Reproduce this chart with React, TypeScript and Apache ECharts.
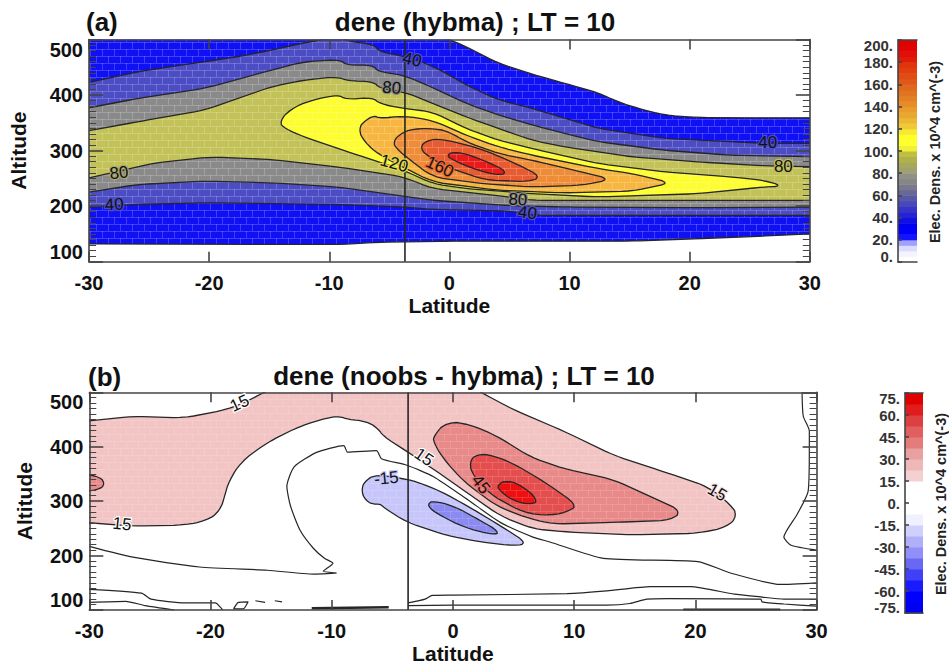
import React, { useEffect, useRef } from "react";
import * as echarts from "echarts";

type Pt = number[];
const FONT = "'Liberation Sans', Arial, sans-serif";

// Panel (a): filled contour outlines, [latitude, altitude]
const A_20: Pt[] = [[-31,506],[-1,506],[0,500],[1.4,487],[4.1,457],[6.9,437.5],[9.6,421],[12.4,404],[14,388],[15.7,376],[17.9,364],[20.7,359.5],[26,359],[31,359],[31,151],[26,146],[20.7,141.5],[15,137],[0,137],[-6,135],[-9,131],[-31,132]];
const A_40: Pt[] = [[-31,418],[-25.9,442],[-20.4,460],[-17.6,469],[-14.8,481],[-12.1,494],[-10.4,500],[-10,505],[-9,505],[-8.5,497],[-6.2,491],[-5.9,478],[-3.7,470],[-1.4,452],[0,436],[1.4,418],[4.1,391],[6.9,376],[12.4,340],[17.9,322],[26.2,313],[31,313],[31,183.5],[20.7,183.5],[7.2,183.5],[5.2,191],[-1.4,194],[-3.8,198.5],[-9.3,203],[-20.4,206],[-26.4,203],[-31,197]];
const A_60: Pt[] = [[-31,373],[-25.9,394],[-20.4,412],[-14.8,445],[-12.1,460],[-9,464],[-8.7,454],[-6.3,454],[-6,442],[-3.8,436],[-1.4,413.5],[1.4,385],[4.1,364],[6.9,346],[9.6,331],[12.4,316],[17.9,300.6],[23.4,291.6],[31,288.6],[31,198.5],[20.7,197.3],[9.6,198.5],[5,201],[-1.4,210.5],[-9.3,234.5],[-14.8,242],[-20.4,245],[-25.9,239],[-31,222]];
const A_80: Pt[] = [[-31,332],[-25.9,352],[-20.4,373],[-14.8,415],[-12.1,427],[-9.3,433],[-8.5,425.5],[-6.2,424],[-5.9,412],[-3.8,406],[-1.4,385],[1.4,360.6],[4.1,339.6],[6.9,318.6],[9.6,306.6],[15.2,288.6],[20.7,279.6],[26.4,272.4],[31,270.6],[31,210.5],[20.7,210.5],[6.9,210.5],[5,216.5],[-1.4,231.5],[-3.8,252.5],[-9.3,270.6],[-14.8,284],[-19.8,288.6],[-24.5,278],[-31,246]];
const A_100: Pt[] = [[-14.2,351.6],[-13.2,375.7],[-11.5,390.7],[-9.2,401],[-8.7,392],[-6.3,395.5],[-5.9,384.7],[-3.8,375.7],[-1.4,369.7],[1.4,339.6],[4.1,318.6],[6.9,303.6],[12.4,276.6],[17.9,261.6],[23.4,252.6],[26.2,246.5],[27.8,236],[26.2,234.5],[20.7,222.5],[12.4,216.5],[6.9,222.5],[1.4,231.5],[-1.4,240.5],[-3.8,264.6],[-8,294.6],[-12.1,324.6],[-13.7,339.6]];
const A_120: Pt[] = [[-7.6,339.6],[-7,354.6],[-6.2,363.7],[-5.9,357.7],[-3.8,362.5],[-1.4,354.6],[1.4,327.6],[4.1,306.6],[6.9,291.6],[12.4,267.6],[15.2,258.6],[18.5,241.7],[15.2,227],[9.6,223.7],[4.1,228.5],[-1.4,243.5],[-3.6,267.6],[-5.8,291.6],[-7.1,315.6]];
const A_140: Pt[] = [[-4.7,315.6],[-4.1,330.6],[-3,339.6],[-1.1,339.6],[0,333.6],[1.4,315.6],[4.1,294.6],[6.9,282.6],[11,261.6],[13.5,248.3],[11,237.5],[6.9,234.5],[2.8,240.5],[-1.4,252.5],[-3.6,288.6],[-4.4,303.6]];
const A_160: Pt[] = [[-2.5,304],[-1.9,319],[-0.6,321],[2.5,304],[5.2,280],[7.7,253],[6.6,244],[3,247],[-0.3,271],[-1.7,289]];
const A_180: Pt[] = [[-0.3,292],[0.55,299],[2.5,286],[4.9,262],[4.1,254.6],[1.9,268],[0.3,283]];
const A_FILLS = ["#1010f4", "#4c4cc4", "#8a8a8a", "#c2c258", "#fdfd30", "#f6b640", "#ee8c38", "#e85a30", "#e81a1a"];

// Panel (b)
const B_P15: Pt[] = [[-31,445],[-26.4,456],[-22.2,453],[-18.7,468],[-17,483],[-15.6,500],[-15,505],[2,505],[2.3,500],[5,468],[9.1,429],[13.3,384],[17.4,354],[21,327],[22.9,294],[23.5,273],[22.6,252],[20.2,241],[14.7,238],[9.7,243],[6.6,249],[3.9,273],[1.2,315],[-1.3,354],[-3.5,387],[-5.8,420],[-6.1,432],[-7.1,447],[-8.7,450],[-9.3,456],[-10.4,453],[-12.6,438],[-15.3,408],[-17.5,372],[-18.5,336],[-18.8,312],[-19.2,282],[-20.3,264],[-22.2,256],[-26.4,254],[-31,262]];
const B_P30_L: Pt[] = [[-31,348],[-29.4,348],[-28.6,333],[-29.3,319],[-31,319]];
const B_P30: Pt[] = [[-1.6,420],[-0.5,447],[1.4,441],[3.6,420],[6.4,381],[9.1,360],[13.3,339],[18.9,282],[18,265],[13.3,261],[8.3,258],[6.4,267],[3.6,291],[0.9,336],[-0.8,378],[-1.6,408]];
const B_P45: Pt[] = [[1.3,372],[2,387],[3.3,384],[5,369],[7.5,336],[10.2,294],[9.7,282],[8,273],[5.8,279],[3.1,312],[1.7,345]];
const B_P60: Pt[] = [[3.6,330],[4.5,339],[5.8,327],[7,303],[6.6,293],[5,300],[3.9,318]];
const B_N15: Pt[] = [[-7.6,321],[-7.2,339],[-6.3,349],[-4.3,342],[-3,336],[-1,318],[1.2,291],[3.9,255],[6.2,222],[5,218],[2.3,225],[-0.5,237],[-3.8,261],[-5.7,288],[-6,295],[-6.5,294],[-7.2,300]];
const B_N30: Pt[] = [[-2,297],[-1.6,300],[0,292],[2.3,264],[3.9,243],[3.3,238],[0.9,252],[-1,273],[-2,288]];
const B_FILLS = ["#f2c4c4", "#e88a8a", "#e88a8a", "#e44e4e", "#ee1010", "#c6c6fb", "#8a8af0"];

// Panel (b): open contour lines
const B_LOOP: Pt[] = [[-30,217],[-26.4,197],[-20.9,179],[-15.3,173],[-11.5,166],[-9.6,168],[-10.7,171],[-9.9,186],[-10.6,195],[-11.5,213],[-12.6,246],[-13.4,291],[-13.7,327],[-13.1,363],[-11.2,390],[-9,402],[-8.7,390],[-6.3,393],[-5.9,378],[-3.8,366],[-1.6,345],[1.2,303],[3.9,261],[6.6,234],[8,225],[12.4,195],[20.2,189],[22.9,168],[27,147],[30,150]];
const B_RIGHT: Pt[] = [[28.8,500],[28.9,456],[29.4,429],[29.4,396],[29.3,318],[28.4,276],[27.3,234],[27.9,219],[30,210]];
const B_LOW1: Pt[] = [[-30,138],[-25.7,131],[-24.9,120],[-22.1,113],[-19.6,113],[-19.1,103],[-19,100]];
const B_LOW2: Pt[] = [[-30,114],[-27,116],[-25.4,108],[-23,100]];
const B_LOW3: Pt[] = [[-3.7,113],[-2.3,120],[-1.7,127],[0,127.5],[9.4,130],[12.7,135],[16.3,143],[19.6,143],[23.2,129],[25.4,124],[27.3,120],[30,120]];
const B_LOW4: Pt[] = [[-3.7,108],[0,109],[12.7,109],[14.6,112],[16,120],[17.7,121],[25.4,120],[25.5,115],[27.3,111],[30,107]];
const B_FRAG1: Pt[] = [[-18.1,102],[-17.7,114],[-16.9,115],[-17.3,102],[-18.1,102]];
const B_FRAG2: Pt[] = [[-16.3,117],[-15.5,114]];
const B_FRAG3: Pt[] = [[-14.7,117],[-14.1,115]];
const B_FRAG4: Pt[] = [[-11.65,103],[-5.3,105]];
const B_FRAG5: Pt[] = [[19,101],[27,101]];

const CUT_LAT = -3.7;

// Contour labels: text, latitude, altitude, tilt in degrees
const A_LABELS: [string, number, number, number][] = [["40",-3.1,464,-12],["80",-4.8,413,-5],["80",-27.5,260,6],["40",-27.9,203,3],["120",-4.6,277,-15],["160",-0.8,271,-25],["40",26.5,314,0],["80",27.8,271,0],["80",5.7,212,-3],["40",6.5,188,-8]];
const A_LABEL_HALOS = ["#4c4cc4","#8a8a8a","#a8a870","#4c4cc4","#e0d850","#e86a34","#4c4cc4","#c0c056","#8a8a8a","#4c4cc4"];
const B_LABELS: [string, number, number, number][] = [["15",-17.6,480,25],["15",-27.3,258,-6],["15",-2.4,381,-35],["-15",-5.5,342,6],["45",2.3,331,-52],["15",21.8,316,-30]];
const B_LABEL_HALOS = ["#ffffff","#ffffff","#ffffff","#c6c6fb","#e86c6c","#f8e0e0"];

// Colour bars, bottom cell first
const BAR_A = ["#ffffff","#f4f4ff","#dcdcff","#a0a0ff","#1414ff","#0000ff","#0000f0","#1010e4","#2424d4","#3434c8","#4848bc","#5858a8","#686898","#78788e","#868686","#90908a","#a0a070","#a8a85c","#b0b04c","#c0c040","#f0f038","#ffff30","#ffff28","#f8e830","#f0c838","#ecb834","#e8a830","#e89c2c","#e88c28","#e48024","#e07420","#e0681c","#e05818","#e04c14","#e04010","#e0340c","#e01c08","#e01008","#e00404","#e00000"];
const BAR_B = ["#0000f0","#0000ff","#1a1aff","#4040f8","#6868f4","#9090f8","#b0b0fa","#d0d0fc","#f0f0ff","#ffffff","#ffffff","#ffffff","#f4d0d0","#eeb8b8","#e8a0a0","#e47c7c","#e06060","#dc4040","#e01c1c","#e00000"];
const Y_RANGE = [100, 500];
const BAR_RANGE_A = [0, 200];
const BAR_RANGE_B = [-75, 75];

const patternCache: Record<string, any> = {};
const brick = (color: string, alpha: number) => {
  const key = color + alpha;
  if (patternCache[key]) return patternCache[key];
  const c = document.createElement("canvas");
  c.width = 12;
  c.height = 14;
  const g = c.getContext("2d")!;
  g.fillStyle = color;
  g.fillRect(0, 0, 12, 14);
  g.fillStyle = `rgba(255,255,255,${alpha})`;
  g.fillRect(0, 0, 12, 1);
  g.fillRect(0, 7, 12, 1);
  g.fillRect(0, 0, 1, 7);
  g.fillRect(6, 7, 1, 7);
  const p = { image: c, repeat: "repeat", imageWidth: 12, imageHeight: 14 };
  patternCache[key] = p;
  return p;
};

// corner-cutting of the closed outline on screen coordinates, with a capped cut
const soften = (src: number[][]) => {
  let pts = src;
  [7, 3].forEach((cap) => {
    const out: number[][] = [];
    const n = pts.length;
    pts.forEach((b, i) => {
      const a = pts[(i + n - 1) % n];
      const c = pts[(i + 1) % n];
      const toward = (q: number[]) => {
        const len = Math.hypot(q[0] - b[0], q[1] - b[1]) || 1;
        const t = Math.min(0.3, cap / len);
        return [b[0] + (q[0] - b[0]) * t, b[1] + (q[1] - b[1]) * t];
      };
      out.push(toward(a), toward(c));
    });
    pts = out;
  });
  return pts;
};

const polygonSeries = (pts: Pt[], fill: any, axis: number) => ({
  type: "custom", xAxisIndex: axis, yAxisIndex: axis, clip: true, silent: true,
  data: pts,
  renderItem: (p: any, api: any) =>
    p.dataIndex !== 0 ? null : {
      type: "polygon",
      shape: { points: soften(pts.map((q) => api.coord(q))) },
      style: { fill, stroke: "#262626", lineWidth: 1.3 },
    },
});
const lineSeries = (pts: Pt[], axis: number, width = 1.2, smooth: number | boolean = 0.2) => ({
  type: "line", xAxisIndex: axis, yAxisIndex: axis, data: pts, showSymbol: false, smooth, silent: true,
  lineStyle: { color: "#262626", width }, z: 3,
});
const labelSeries = (rows: [string, number, number, number][], halos: string[], axis: number) => ({
  type: "custom", xAxisIndex: axis, yAxisIndex: axis, silent: true, z: 6,
  data: rows.map((r) => [r[1], r[2]]),
  renderItem: (p: any, api: any) => {
    const c = api.coord([api.value(0), api.value(1)]);
    const r = rows[p.dataIndex];
    return {
      type: "text", x: c[0], y: c[1], rotation: (r[3] * Math.PI) / 180,
      style: { text: r[0], fill: "#111", stroke: halos[p.dataIndex], lineWidth: 2.5, font: `17px ${FONT}`, align: "center", verticalAlign: "middle" },
    };
  },
});
const barSeries = (colors: string[], range: number[], axis: number) => {
  const step = (range[1] - range[0]) / colors.length;
  return {
    type: "custom", xAxisIndex: axis, yAxisIndex: axis, silent: true,
    encode: { x: 0, y: 1 },
    data: colors.map((_, i) => [0, range[0] + i * step, range[0] + (i + 1) * step]),
    renderItem: (p: any, api: any) => {
      const a = api.coord([0, api.value(2)]);
      const b = api.coord([1, api.value(1)]);
      return { type: "rect", shape: { x: a[0], y: a[1], width: b[0] - a[0], height: b[1] - a[1] + 0.5 }, style: { fill: colors[p.dataIndex] } };
    },
  };
};

const AX = { color: "#444", width: 1.6 };
const label = { fontFamily: FONT, fontWeight: "bold", fontSize: 20, color: "#111" };
const nameStyle = { fontFamily: FONT, fontWeight: "bold", fontSize: 21, color: "#111" };

const latAxes = (grid: number, name: string) => [
  { type: "value", gridIndex: grid, min: -30, max: 30, interval: 10, position: "bottom", z: 5,
    axisLine: { onZero: false, lineStyle: AX }, axisTick: { inside: true, length: 10, lineStyle: AX },
    splitLine: { show: false }, axisLabel: { ...label, margin: 11, showMinLabel: true, showMaxLabel: true },
    name, nameLocation: "middle", nameGap: 33, nameTextStyle: nameStyle },
  { type: "value", gridIndex: grid, min: -30, max: 30, interval: 10, position: "top", z: 5,
    axisLine: { onZero: false, lineStyle: AX }, axisTick: { inside: true, length: 10, lineStyle: AX },
    splitLine: { show: false }, axisLabel: { show: false } },
];
const altAxes = (grid: number, nameGap: number) => [
  { type: "value", gridIndex: grid, min: Y_RANGE[0], max: Y_RANGE[1], interval: 100, position: "left", z: 5,
    axisLine: { onZero: false, lineStyle: AX }, axisTick: { inside: true, length: 14, lineStyle: AX },
    minorTick: { show: true, splitNumber: 10, length: 7, lineStyle: { color: "#444", width: 1 } },
    splitLine: { show: false }, minorSplitLine: { show: false },
    axisLabel: { ...label, margin: 6, showMinLabel: true, showMaxLabel: true, verticalAlignMaxLabel: "top", verticalAlignMinLabel: "bottom" },
    name: "Altitude", nameLocation: "middle", nameGap, nameRotate: 90, nameTextStyle: nameStyle },
  { type: "value", gridIndex: grid, min: Y_RANGE[0], max: Y_RANGE[1], interval: 100, position: "right", z: 5,
    axisLine: { onZero: false, lineStyle: AX }, axisTick: { inside: true, length: 14, lineStyle: AX },
    minorTick: { show: true, splitNumber: 10, length: 7, lineStyle: { color: "#444", width: 1 } },
    splitLine: { show: false }, minorSplitLine: { show: false }, axisLabel: { show: false } },
];
const barX = (grid: number) => [
  { type: "value", gridIndex: grid, min: 0, max: 1, position: "bottom", z: 5, axisLine: { onZero: false, lineStyle: AX }, axisTick: { show: false }, axisLabel: { show: false }, splitLine: { show: false } },
  { type: "value", gridIndex: grid, min: 0, max: 1, position: "top", z: 5, axisLine: { onZero: false, lineStyle: AX }, axisTick: { show: false }, axisLabel: { show: false }, splitLine: { show: false } },
];
const barY = (grid: number, range: number[], interval: number) => [
  { type: "value", gridIndex: grid, min: range[0], max: range[1], interval, position: "left", z: 5,
    axisLine: { onZero: false, lineStyle: AX }, axisTick: { inside: true, length: 4, lineStyle: AX }, splitLine: { show: false },
    axisLabel: { fontFamily: FONT, fontWeight: "bold", fontSize: 15, lineHeight: 11, color: "#333", margin: 5, showMinLabel: true, showMaxLabel: true, hideOverlap: false, formatter: (v: number) => `${v}.`, verticalAlignMaxLabel: "top", verticalAlignMinLabel: "bottom" } },
  { type: "value", gridIndex: grid, min: range[0], max: range[1], interval, position: "right", z: 5,
    axisLine: { show: false, onZero: false }, axisTick: { show: false }, axisLabel: { show: false }, splitLine: { show: false } },
];
const titleOf = (text: string, left: number, top: number, textAlign = "center") => ({
  text, left, top, textAlign, textStyle: { fontFamily: FONT, fontWeight: "bold", fontSize: 26, color: "#111" },
});

export default function App() {
  const ref = useRef<HTMLDivElement>(null);
  useEffect(() => {
    const chart = echarts.init(ref.current!, undefined, { renderer: "svg" });
    const barName = "Elec. Dens. x 10^4 cm^(-3)";
    chart.setOption({
      animation: false,
      backgroundColor: "#fff",
      title: [
        titleOf("(a)", 81, 4, "left"),
        titleOf("dene (hybma) ; LT = 10", 470, 4),
        titleOf("(b)", 83, 359, "left"),
        titleOf("dene (noobs - hybma) ; LT = 10", 459, 358),
      ],
      grid: [
        { left: 83.3, top: 39.5, width: 726.5, height: 222.2 },
        { left: 89.3, top: 392.3, width: 727.3, height: 222 },
        { left: 898, top: 40, width: 19, height: 222 },
        { left: 905, top: 393, width: 18, height: 220 },
      ],
      xAxis: [...latAxes(0, "Latitude"), ...latAxes(1, "Latitude"), ...barX(2), ...barX(3)],
      yAxis: [...altAxes(0, 60), ...altAxes(1, 54), ...barY(2, BAR_RANGE_A, 20), ...barY(3, BAR_RANGE_B, 15)],
      graphic: [
        { type: "text", x: 935, y: 152, rotation: Math.PI / 2, style: { text: barName, font: `bold 14.5px ${FONT}`, fill: "#222", align: "center", verticalAlign: "middle" } },
        { type: "text", x: 941, y: 504, rotation: Math.PI / 2, style: { text: barName, font: `bold 14.5px ${FONT}`, fill: "#222", align: "center", verticalAlign: "middle" } },
      ],
      series: [
        ...[A_20, A_40, A_60, A_80, A_100, A_120, A_140, A_160, A_180].map((p, i) => polygonSeries(p, brick(A_FILLS[i], 0.2), 0)),
        lineSeries([[CUT_LAT, 100], [CUT_LAT, 500]], 0, 1.6, false),
        labelSeries(A_LABELS, A_LABEL_HALOS, 0),
        ...[B_P15, B_P30_L, B_P30, B_P45, B_P60, B_N15, B_N30].map((p, i) => polygonSeries(p, brick(B_FILLS[i], 0.14), 2)),
        ...[B_LOOP, B_RIGHT, B_LOW1, B_LOW2, B_LOW3, B_LOW4, B_FRAG1, B_FRAG2, B_FRAG3].map((p) => lineSeries(p, 2)),
        lineSeries(B_FRAG4, 2, 2.5, false),
        lineSeries(B_FRAG5, 2, 2, false),
        lineSeries([[CUT_LAT, 100], [CUT_LAT, 500]], 2, 1.6, false),
        labelSeries(B_LABELS, B_LABEL_HALOS, 2),
        barSeries(BAR_A, BAR_RANGE_A, 4),
        barSeries(BAR_B, BAR_RANGE_B, 6),
      ],
    });
    return () => chart.dispose();
  }, []);
  return <div ref={ref} style={{ position: "fixed", left: 0, top: 0, width: 949, height: 665 }} />;
}
